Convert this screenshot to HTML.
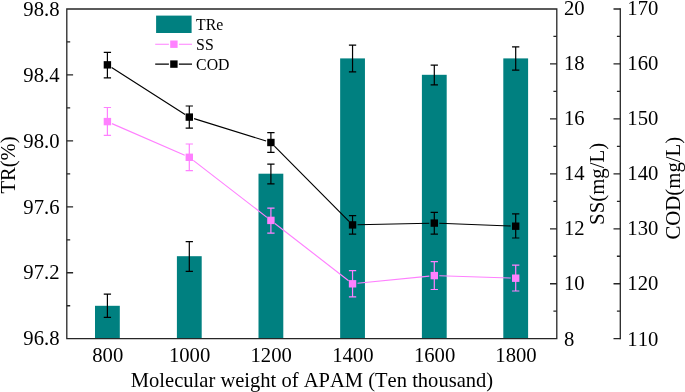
<!DOCTYPE html>
<html><head><meta charset="utf-8"><title>Chart</title>
<style>html,body{margin:0;padding:0;background:#fff}svg{display:block}text{font-kerning:none;font-family:"Liberation Serif","Times New Roman",serif;fill:#000}</style></head><body>
<svg width="685" height="392" viewBox="0 0 685 392">
<rect width="685" height="392" fill="#fff"/>
<g>
<rect x="95.00" y="305.80" width="24.80" height="32.90" fill="#008080"/>
<rect x="176.90" y="256.20" width="24.80" height="82.50" fill="#008080"/>
<rect x="258.50" y="173.70" width="24.80" height="165.00" fill="#008080"/>
<rect x="340.15" y="58.40" width="24.80" height="280.30" fill="#008080"/>
<rect x="421.90" y="74.80" width="24.80" height="263.90" fill="#008080"/>
<rect x="503.30" y="58.40" width="24.80" height="280.30" fill="#008080"/>
</g>
<g>
<path d="M107.40 294.20V317.30M103.75 294.20H111.05M103.75 317.30H111.05" stroke="#000" stroke-width="1.2" fill="none"/>
<path d="M189.30 241.70V271.30M185.65 241.70H192.95M185.65 271.30H192.95" stroke="#000" stroke-width="1.2" fill="none"/>
<path d="M270.90 164.10V183.90M267.25 164.10H274.55M267.25 183.90H274.55" stroke="#000" stroke-width="1.2" fill="none"/>
<path d="M352.55 45.20V71.90M348.90 45.20H356.20M348.90 71.90H356.20" stroke="#000" stroke-width="1.2" fill="none"/>
<path d="M434.30 65.10V84.90M430.65 65.10H437.95M430.65 84.90H437.95" stroke="#000" stroke-width="1.2" fill="none"/>
<path d="M515.70 46.80V70.10M512.05 46.80H519.35M512.05 70.10H519.35" stroke="#000" stroke-width="1.2" fill="none"/>
</g>
<g>
<path d="M111.98 123.60L184.72 155.30M193.26 160.36L266.94 217.34M274.85 223.47L348.60 280.73M357.53 283.30L429.32 276.10M439.30 275.76L510.70 278.04" fill="none" stroke="#ff80ff" stroke-width="1.15"/>
<path d="M107.40 107.50V135.40M103.75 107.50H111.05M103.75 135.40H111.05" stroke="#ff80ff" stroke-width="1.2" fill="none"/>
<path d="M189.30 144.00V170.60M185.65 144.00H192.95M185.65 170.60H192.95" stroke="#ff80ff" stroke-width="1.2" fill="none"/>
<path d="M270.90 208.10V233.20M267.25 208.10H274.55M267.25 233.20H274.55" stroke="#ff80ff" stroke-width="1.2" fill="none"/>
<path d="M352.55 270.60V296.90M348.90 270.60H356.20M348.90 296.90H356.20" stroke="#ff80ff" stroke-width="1.2" fill="none"/>
<path d="M434.30 261.60V289.50M430.65 261.60H437.95M430.65 289.50H437.95" stroke="#ff80ff" stroke-width="1.2" fill="none"/>
<path d="M515.70 265.10V291.00M512.05 265.10H519.35M512.05 291.00H519.35" stroke="#ff80ff" stroke-width="1.2" fill="none"/>
<rect x="103.70" y="117.90" width="7.4" height="7.4" fill="#ff80ff"/>
<rect x="185.60" y="153.60" width="7.4" height="7.4" fill="#ff80ff"/>
<rect x="267.20" y="216.70" width="7.4" height="7.4" fill="#ff80ff"/>
<rect x="348.85" y="280.10" width="7.4" height="7.4" fill="#ff80ff"/>
<rect x="430.60" y="271.90" width="7.4" height="7.4" fill="#ff80ff"/>
<rect x="512.00" y="274.50" width="7.4" height="7.4" fill="#ff80ff"/>
</g>
<g>
<path d="M111.62 67.54L185.08 114.41M194.07 118.59L266.13 141.01M274.42 146.05L349.03 221.35M357.55 224.79L429.30 223.21M439.30 223.29L510.70 226.01" fill="none" stroke="#000" stroke-width="1.15"/>
<path d="M107.40 52.40V77.80M103.75 52.40H111.05M103.75 77.80H111.05" stroke="#000" stroke-width="1.2" fill="none"/>
<path d="M189.30 106.00V128.20M185.65 106.00H192.95M185.65 128.20H192.95" stroke="#000" stroke-width="1.2" fill="none"/>
<path d="M270.90 132.70V152.30M267.25 132.70H274.55M267.25 152.30H274.55" stroke="#000" stroke-width="1.2" fill="none"/>
<path d="M352.55 215.60V234.20M348.90 215.60H356.20M348.90 234.20H356.20" stroke="#000" stroke-width="1.2" fill="none"/>
<path d="M434.30 212.30V234.20M430.65 212.30H437.95M430.65 234.20H437.95" stroke="#000" stroke-width="1.2" fill="none"/>
<path d="M515.70 213.80V238.00M512.05 213.80H519.35M512.05 238.00H519.35" stroke="#000" stroke-width="1.2" fill="none"/>
<rect x="103.70" y="61.15" width="7.4" height="7.4" fill="#000"/>
<rect x="185.60" y="113.40" width="7.4" height="7.4" fill="#000"/>
<rect x="267.20" y="138.80" width="7.4" height="7.4" fill="#000"/>
<rect x="348.85" y="221.20" width="7.4" height="7.4" fill="#000"/>
<rect x="430.60" y="219.40" width="7.4" height="7.4" fill="#000"/>
<rect x="512.00" y="222.50" width="7.4" height="7.4" fill="#000"/>
</g>
<g stroke="#262626" stroke-width="1.3" fill="none" stroke-linecap="square">
<path d="M66.8 9.0H556.8V338.7H66.8Z"/>
<path d="M620.3 9.0V338.7"/>
<path d="M66.8 41.97h3.4M66.8 74.94h6.3M66.8 107.91h3.4M66.8 140.88h6.3M66.8 173.85h3.4M66.8 206.82h6.3M66.8 239.79h3.4M66.8 272.76h6.3M66.8 305.73h3.4M556.8 36.47h-3.4M556.8 63.95h-6.8M556.8 91.42h-3.4M556.8 118.90h-6.8M556.8 146.38h-3.4M556.8 173.85h-6.8M556.8 201.33h-3.4M556.8 228.80h-6.8M556.8 256.27h-3.4M556.8 283.75h-6.8M556.8 311.22h-3.4M620.3 9.00h-6.8M620.3 36.47h-3.4M620.3 63.95h-6.8M620.3 91.42h-3.4M620.3 118.90h-6.8M620.3 146.38h-3.4M620.3 173.85h-6.8M620.3 201.33h-3.4M620.3 228.80h-6.8M620.3 256.27h-3.4M620.3 283.75h-6.8M620.3 311.22h-3.4M620.3 338.70h-6.8" stroke-linecap="butt"/>
</g>
<g font-size="20.7">
<text transform="translate(59.50 15.70) scale(1 1.045)" text-anchor="end">98.8</text>
<text transform="translate(59.50 81.64) scale(1 1.045)" text-anchor="end">98.4</text>
<text transform="translate(59.50 147.58) scale(1 1.045)" text-anchor="end">98.0</text>
<text transform="translate(59.50 213.52) scale(1 1.045)" text-anchor="end">97.6</text>
<text transform="translate(59.50 279.46) scale(1 1.045)" text-anchor="end">97.2</text>
<text transform="translate(59.50 345.40) scale(1 1.045)" text-anchor="end">96.8</text>
<text transform="translate(563.90 14.90) scale(1 1.045)">20</text>
<text transform="translate(563.90 70.00) scale(1 1.045)">18</text>
<text transform="translate(563.90 125.10) scale(1 1.045)">16</text>
<text transform="translate(563.90 180.20) scale(1 1.045)">14</text>
<text transform="translate(563.90 235.30) scale(1 1.045)">12</text>
<text transform="translate(563.90 290.40) scale(1 1.045)">10</text>
<text transform="translate(563.90 345.50) scale(1 1.045)">8</text>
<text transform="translate(627.30 14.90) scale(1 1.045)">170</text>
<text transform="translate(627.30 70.00) scale(1 1.045)">160</text>
<text transform="translate(627.30 125.10) scale(1 1.045)">150</text>
<text transform="translate(627.30 180.20) scale(1 1.045)">140</text>
<text transform="translate(627.30 235.30) scale(1 1.045)">130</text>
<text transform="translate(627.30 290.40) scale(1 1.045)">120</text>
<text transform="translate(627.30 345.50) scale(1 1.045)">110</text>
<text transform="translate(107.70 361.60) scale(1 1.045)" text-anchor="middle">800</text>
<text transform="translate(189.60 361.60) scale(1 1.045)" text-anchor="middle">1000</text>
<text transform="translate(271.20 361.60) scale(1 1.045)" text-anchor="middle">1200</text>
<text transform="translate(352.85 361.60) scale(1 1.045)" text-anchor="middle">1400</text>
<text transform="translate(434.60 361.60) scale(1 1.045)" text-anchor="middle">1600</text>
<text transform="translate(516.00 361.60) scale(1 1.045)" text-anchor="middle">1800</text>
</g>
<g font-size="20.8">
<text x="312" y="386.9" font-size="20.55" text-anchor="middle">Molecular weight of APAM (Ten thousand)</text>
<text transform="translate(14.9 165.0) rotate(-90)" font-size="20.5" text-anchor="middle">TR(%)</text>
<text transform="translate(604.1 183.9) rotate(-90)" text-anchor="middle">SS(mg/L)</text>
<text transform="translate(680 188.2) rotate(-90)" text-anchor="middle">COD(mg/L)</text>
</g>
<g>
<rect x="156.1" y="15.6" width="35.5" height="17.4" fill="#008080"/>
<path d="M155.2 44.2H168.90M178.90 44.2H192" stroke="#ff80ff" stroke-width="1.15"/>
<rect x="170.20" y="40.50" width="7.4" height="7.4" fill="#ff80ff"/>
<path d="M155.2 64.1H168.90M178.90 64.1H192" stroke="#000" stroke-width="1.15"/>
<rect x="170.20" y="60.40" width="7.4" height="7.4" fill="#000"/>
<g font-size="15.8">
<text transform="translate(196.1 30.0) scale(1 1.06)">TRe</text>
<text transform="translate(196.1 49.9) scale(1 1.06)">SS</text>
<text transform="translate(196.1 69.7) scale(1 1.06)">COD</text>
</g></g>
</svg></body></html>
